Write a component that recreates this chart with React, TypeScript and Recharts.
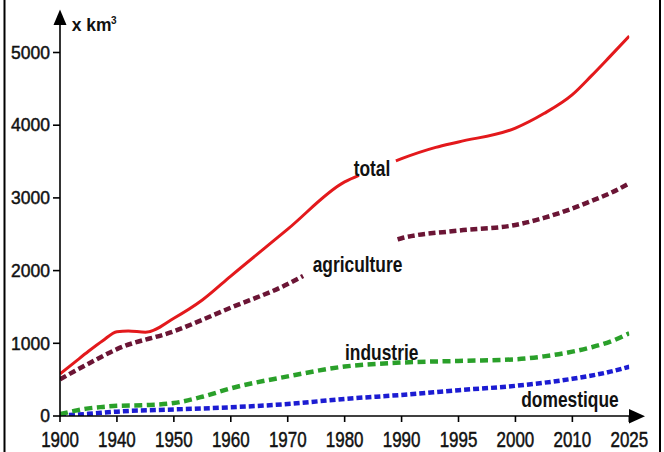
import React from 'react';
import { LineChart, Line, XAxis, YAxis } from 'recharts';

// ---------- data ----------
const TICK_YEARS = [1900, 1940, 1950, 1960, 1970, 1980, 1990, 1995, 2000, 2010, 2025];
const Y_TICKS = [0, 1000, 2000, 3000, 4000, 5000];

const TOTAL_YEARS = [1900, 1910, 1920, 1930, 1940, 1942, 1945, 1950, 1955, 1960, 1970, 1980, 1982.5, 1985, 1989, 1990, 1993, 1995, 2000, 2005, 2010, 2015, 2020, 2025];
const TOTAL_VALUES = [580, 735, 890, 1035, 1160, 1170, 1152, 1345, 1595, 1925, 2570, 3220, 3310, null, 3510, 3540, 3695, 3770, 3960, 4160, 4420, 4678, 4950, 5225];

const AGRI_YEARS = [1900, 1920, 1940, 1950, 1960, 1970, 1972.7, 1980, 1989.3, 1990, 1995, 2000, 2005, 2010, 2015, 2020, 2025];
const AGRI_VALUES = [505, 720, 920, 1165, 1490, 1815, 1926, null, 2430, 2445, 2550, 2628, 2725, 2855, 2958, 3065, 3200];

const INDU_YEARS = [1900, 1910, 1920, 1930, 1940, 1945, 1950, 1955, 1960, 1970, 1980, 1990, 1995, 2000, 2005, 2010, 2015, 2020, 2025];
const INDU_VALUES = [25, 70, 105, 125, 140, 150, 178, 265, 380, 545, 680, 735, 757, 780, 820, 885, 945, 1023, 1138];

const DOME_YEARS = [1900, 1920, 1940, 1950, 1960, 1970, 1980, 1990, 1995, 2000, 2010, 2020, 2025];
const DOME_VALUES = [5, 30, 60, 90, 120, 165, 235, 290, 355, 415, 512, 610, 678];

const SERIES_NAMES = ['total', 'agriculture', 'industrie', 'domestique'];
const UNIT_LABEL = 'x km';
const UNIT_SUP = '3';

// ---------- helpers ----------
// x axis is evenly spaced over the (unevenly spaced) tick years; map a year onto that scale
function yearToPos(year: number): number {
  for (let i = 0; i < TICK_YEARS.length - 1; i++) {
    const a = TICK_YEARS[i];
    const b = TICK_YEARS[i + 1];
    if (year <= b) return i + (year - a) / (b - a);
  }
  return TICK_YEARS.length - 1;
}

function build(years: number[], values: (number | null)[]) {
  return years.map((yr, i) => ({ x: yearToPos(yr), v: values[i] }));
}

const totalData = build(TOTAL_YEARS, TOTAL_VALUES);
const agriData = build(AGRI_YEARS, AGRI_VALUES);
const induData = build(INDU_YEARS, INDU_VALUES);
const domeData = build(DOME_YEARS, DOME_VALUES);

const FONT = "'Liberation Sans', Arial, Helvetica, sans-serif";

const XTick = (props: any) => {
  const { x, y, payload } = props;
  return (
    <text
      transform={`translate(${x},${y + 22.8}) scale(0.77,1)`}
      textAnchor="middle"
      fontSize={22}
      fontFamily={FONT}
      fill="#111"
      stroke="#111"
      strokeWidth={0.5}
    >
      {TICK_YEARS[payload.value]}
    </text>
  );
};

const YTick = (props: any) => {
  const { x, y, payload } = props;
  return (
    <text
      x={x}
      y={y}
      dy={6.2}
      textAnchor="end"
      fontSize={17.5}
      fontFamily={FONT}
      fill="#111"
      stroke="#111"
      strokeWidth={0.45}
    >
      {payload.value}
    </text>
  );
};

const SeriesLabel = ({ x, y, text }: { x: number; y: number; text: string }) => (
  <text
    transform={`translate(${x},${y}) scale(0.79,1)`}
    textAnchor="middle"
    fontSize={22}
    fontWeight="bold"
    fontFamily={FONT}
    fill="#111"
  >
    {text}
  </text>
);

export default function App() {
  return (
    <div
      style={{
        position: 'fixed',
        left: 0,
        top: 0,
        width: 664,
        height: 452,
        background: '#fff',
        fontFamily: FONT,
      }}
    >
      <LineChart
        width={664}
        height={452}
        margin={{ top: 16.15, right: 34.7, bottom: 0, left: 0 }}
      >
        <XAxis
          type="number"
          dataKey="x"
          domain={[0, TICK_YEARS.length - 1]}
          ticks={TICK_YEARS.map((_, i) => i)}
          interval={0}
          height={36}
          tickSize={6}
          tickMargin={2}
          axisLine={{ stroke: '#000', strokeWidth: 1.6 }}
          tickLine={{ stroke: '#000', strokeWidth: 1.6 }}
          tick={<XTick />}
          allowDataOverflow
        />
        <YAxis
          type="number"
          domain={[0, 5500]}
          ticks={Y_TICKS}
          interval={0}
          width={60}
          tickSize={7}
          tickMargin={3}
          axisLine={false}
          tickLine={{ stroke: '#000', strokeWidth: 1.6 }}
          tick={<YTick />}
          allowDataOverflow
        />
        <Line
          data={domeData}
          dataKey="v"
          type="monotone"
          stroke="#1c1cd2"
          strokeWidth={4.5}
          strokeDasharray="6 3"
          dot={false}
          activeDot={false}
          isAnimationActive={false}
        />
        <Line
          data={induData}
          dataKey="v"
          type="monotone"
          stroke="#2aa02a"
          strokeWidth={4.5}
          strokeDasharray="8 4.5"
          dot={false}
          activeDot={false}
          isAnimationActive={false}
        />
        <Line
          data={agriData}
          dataKey="v"
          type="monotone"
          stroke="#6b1535"
          strokeWidth={4.5}
          strokeDasharray="7 3.5"
          dot={false}
          activeDot={false}
          isAnimationActive={false}
        />
        <Line
          data={totalData}
          dataKey="v"
          type="monotone"
          stroke="#e3191c"
          strokeWidth={3}
          dot={false}
          activeDot={false}
          isAnimationActive={false}
        />
      </LineChart>
      <svg
        width={664}
        height={452}
        style={{ position: 'absolute', left: 0, top: 0, pointerEvents: 'none' }}
      >
        {/* frame */}
        <rect x={3.5} y={0} width={2} height={452} fill="#000" />
        <rect x={659} y={0} width={2} height={452} fill="#000" />
        {/* y axis line & arrow */}
        <line x1={60} y1={24} x2={60} y2={416.8} stroke="#000" strokeWidth={1.6} />
        <polygon points="60,9.5 53.5,25 66.5,25" fill="#000" />
        {/* x axis arrow */}
        <polygon points="629,409 629,423.5 645,416.2" fill="#000" />
        {/* unit */}
        <text x={71.7} y={30.7} fontSize={17.5} fontWeight="bold" fontFamily={FONT} fill="#111">
          {UNIT_LABEL}
        </text>
        <text x={111} y={24} fontSize={10} fontWeight="bold" fontFamily={FONT} fill="#111">
          {UNIT_SUP}
        </text>
        <SeriesLabel x={372} y={176} text={SERIES_NAMES[0]} />
        <SeriesLabel x={357.5} y={272} text={SERIES_NAMES[1]} />
        <SeriesLabel x={381.7} y={360} text={SERIES_NAMES[2]} />
        <SeriesLabel x={570} y={407} text={SERIES_NAMES[3]} />
      </svg>
    </div>
  );
}
